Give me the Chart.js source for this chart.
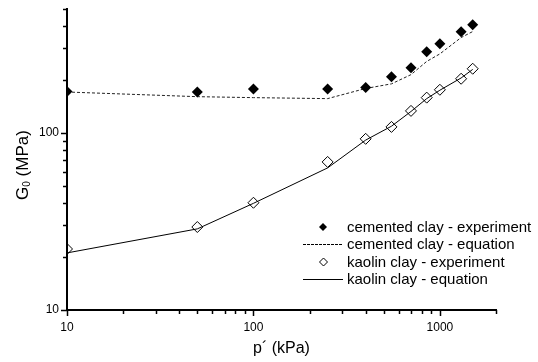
<!DOCTYPE html>
<html>
<head>
<meta charset="utf-8">
<script src="https://cdn.jsdelivr.net/npm/chart.js@4.4.1/dist/chart.umd.min.js"></script>
<style>
  html, body { margin: 0; padding: 0; background: #fff; }
</style>
</head>
<body>
<canvas id="Canvas1" width="538" height="362"></canvas>
<script>
// mean effective stress p' (kPa)
const pressures = [10, 50, 100, 250, 400, 550, 700, 850, 1000, 1300, 1500];

// G0 (MPa)
const cementedExp = [171, 170, 177, 177, 180, 207, 233, 287, 318, 372, 407];
const cementedEq  = [170, 160, 158, 156, 178, 189, 213, 253, 279, 345, 373];
const kaolinExp   = [22.1, 29.4, 40.3, 68.5, 92.5, 108, 133, 158, 175, 202, 230];
const kaolinEq    = [21, 28.7, 40, 63.4, 91, 109, 132, 156, 174, 204, 228];

const xLabels = [10, 100, 1000];
const yLabels = [10, 100];
const xTicks = [10, 20, 30, 40, 50, 60, 70, 80, 90, 100, 200, 300, 400, 500, 600, 700, 800, 900, 1000, 2000];
const yTicks = [10, 20, 30, 40, 50, 60, 70, 80, 90, 100, 200, 300, 400, 500];

const legendNames = [
  "cemented clay - experiment",
  "cemented clay - equation",
  "kaolin clay - experiment",
  "kaolin clay - equation"
];

function toPoints(ys) {
  return pressures.map((p, i) => ({x: p, y: ys[i]}));
}

function diamond(ctx, x, y, r, fill) {
  ctx.beginPath();
  ctx.moveTo(x - r, y);
  ctx.lineTo(x, y - r);
  ctx.lineTo(x + r, y);
  ctx.lineTo(x, y + r);
  ctx.closePath();
  if (fill) {
    ctx.fillStyle = "#000";
    ctx.fill();
  } else {
    ctx.strokeStyle = "#000";
    ctx.lineWidth = 1;
    ctx.stroke();
  }
}

// tick marks, axis titles and the legend are drawn by hand
const extras = {
  id: "extras",
  afterDraw(chart) {
    const ctx = chart.ctx;
    const xs = chart.scales.x;
    const ys = chart.scales.y;
    const area = chart.chartArea;
    ctx.save();
    ctx.strokeStyle = "#000";
    ctx.lineWidth = 1.5;
    xTicks.forEach(v => {
      const px = Math.round(xs.getPixelForValue(v)) + 0.5;
      const len = xLabels.includes(v) ? 6 : 4;
      ctx.beginPath();
      ctx.moveTo(px, area.bottom);
      ctx.lineTo(px, area.bottom + len);
      ctx.stroke();
    });
    yTicks.forEach(v => {
      const py = Math.round(ys.getPixelForValue(v)) + 0.5;
      const len = yLabels.includes(v) ? 6 : 4;
      ctx.beginPath();
      ctx.moveTo(area.left, py);
      ctx.lineTo(area.left - len, py);
      ctx.stroke();
    });

    // x title
    ctx.fillStyle = "#000";
    ctx.font = "16px Arial";
    ctx.textAlign = "center";
    ctx.textBaseline = "middle";
    ctx.fillText("p\u00b4 (kPa)", (area.left + area.right) / 2, 349);

    // y title with subscript
    ctx.save();
    ctx.translate(28, 165);
    ctx.rotate(-Math.PI / 2);
    ctx.textAlign = "left";
    ctx.textBaseline = "alphabetic";
    ctx.font = "17px Arial";
    const wG = ctx.measureText("G").width;
    const wRest = ctx.measureText(" (MPa)").width;
    ctx.font = "10px Arial";
    const w0 = ctx.measureText("0").width;
    let sx = -(wG + w0 + wRest) / 2;
    ctx.font = "17px Arial";
    ctx.fillText("G", sx, 0);
    ctx.font = "10px Arial";
    ctx.fillText("0", sx + wG, 2);
    ctx.font = "17px Arial";
    ctx.fillText(" (MPa)", sx + wG + w0, 0);
    ctx.restore();

    // legend
    const rows = [227, 244, 262, 279];
    ctx.font = "15px Arial";
    ctx.textAlign = "left";
    ctx.textBaseline = "middle";
    ctx.fillStyle = "#000";
    legendNames.forEach((name, i) => {
      ctx.fillText(name, 347, rows[i] + 1);
    });
    diamond(ctx, 323, rows[0], 4, true);
    diamond(ctx, 323.5, rows[2], 4, false);
    ctx.lineWidth = 1;
    ctx.strokeStyle = "#000";
    ctx.setLineDash([3, 1]);
    ctx.beginPath();
    ctx.moveTo(303, rows[1] + 0.5);
    ctx.lineTo(343, rows[1] + 0.5);
    ctx.stroke();
    ctx.setLineDash([]);
    ctx.beginPath();
    ctx.moveTo(303, rows[3] + 0.5);
    ctx.lineTo(343, rows[3] + 0.5);
    ctx.stroke();
    ctx.restore();
  }
};

const config = {
  type: "scatter",
  data: {
    datasets: [
      {
        label: legendNames[0],
        data: toPoints(cementedExp),
        pointStyle: "rectRot",
        pointRadius: 5.5,
        backgroundColor: "#000",
        borderColor: "#000",
        borderWidth: 0,
        clip: 0
      },
      {
        label: legendNames[2],
        data: toPoints(kaolinExp),
        pointStyle: "rectRot",
        pointRadius: 5.5,
        backgroundColor: "rgba(0,0,0,0)",
        borderColor: "#000",
        borderWidth: 1,
        clip: 0
      },
      {
        label: legendNames[1],
        data: toPoints(cementedEq),
        showLine: true,
        pointRadius: 0,
        borderColor: "#222",
        borderWidth: 1,
        borderDash: [3, 2]
      },
      {
        label: legendNames[3],
        data: toPoints(kaolinEq),
        showLine: true,
        pointRadius: 0,
        borderColor: "#000",
        borderWidth: 1
      }
    ]
  },
  options: {
    responsive: false,
    animation: false,
    layout: {
      padding: {top: 9, right: 42, left: 0, bottom: 0}
    },
    plugins: {
      legend: {display: false},
      tooltip: {enabled: false}
    },
    scales: {
      x: {
        type: "logarithmic",
        position: "bottom",
        min: 10,
        max: 2000,
        grid: {display: false, drawTicks: false},
        border: {display: true, color: "#000", width: 2},
        ticks: {
          autoSkip: false,
          maxRotation: 0,
          padding: 10,
          color: "#000",
          font: {family: "Arial", size: 12},
          callback: v => xLabels.includes(Math.round(v)) ? String(Math.round(v)) : ""
        },
        afterFit: s => { s.height = 52; s.paddingLeft = 0; s.paddingRight = 0; }
      },
      y: {
        type: "logarithmic",
        position: "left",
        min: 10,
        max: 500,
        grid: {display: false, drawTicks: false},
        border: {display: true, color: "#000", width: 2},
        ticks: {
          autoSkip: false,
          padding: 8,
          color: "#000",
          font: {family: "Arial", size: 12},
          callback: v => yLabels.includes(Math.round(v)) ? String(Math.round(v)) : ""
        },
        afterFit: s => { s.width = 67; s.paddingTop = 0; s.paddingBottom = 0; }
      }
    }
  },
  plugins: [extras]
};

var ctx = document.getElementById("Canvas1").getContext("2d");
var myChart = new Chart(ctx, config);
</script>
</body>
</html>
